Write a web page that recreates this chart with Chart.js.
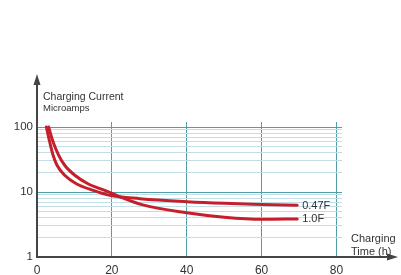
<!DOCTYPE html>
<html>
<head>
<meta charset="utf-8">
<script src="https://cdn.jsdelivr.net/npm/chart.js@4/dist/chart.umd.min.js"></script>
<style>
  html, body { margin: 0; padding: 0; background: #ffffff; }
  #wrap { width: 401px; height: 275px; position: relative; }
</style>
</head>
<body>
<div id="wrap"><canvas id="c" width="401" height="275"></canvas></div>
<script>
// ---- data ----
const xTickValues = [0, 20, 40, 60, 80];
const yTickLabels = [1, 10, 100];
const yGridValues = [1, 2, 3, 4, 5, 6, 7, 8, 9, 10, 20, 30, 40, 50, 60, 70, 80, 90, 100];
const seriesLabels = ['0.47F', '1.0F'];

const time047 = [2.5, 3.4, 4.3, 5.35, 7.4, 10.5, 15, 19.4, 27.5, 40, 50, 60, 69.5];
const current047 = [100, 58.8, 36.7, 25.8, 18.1, 13.4, 10.6, 8.9, 7.9, 7.1, 6.7, 6.45, 6.25];

const time10 = [3.1, 4.3, 5.8, 7.4, 10.1, 13.6, 18.1, 21.7, 28, 40, 50, 60, 69.5];
const current10 = [100, 58.8, 36.7, 25.8, 18.1, 13.4, 10.6, 8.66, 6.4, 4.8, 4.1, 3.8, 3.85];

const yAxisTitle = ['Charging Current', 'Microamps'];
const xAxisTitle = ['Charging', 'Time (h)'];

// ---- styling ----
const RED = '#c61f2c';
const AXIS = '#454545';
const TEXT = '#333333';
const TEAL = '#4f9ea8';
const LIGHT = '#c4dee5';
const FONT = '"Liberation Sans", Arial, Helvetica, sans-serif';

function pts(xs, ys) { return xs.map((x, i) => ({ x: x, y: ys[i] })); }

const decorPlugin = {
  id: 'decor',
  afterDraw(chart) {
    const ctx = chart.ctx;
    const xs = chart.scales.x, ys = chart.scales.y;
    const x0 = xs.getPixelForValue(0);
    const y0 = ys.getPixelForValue(1);
    ctx.save();
    // axes
    ctx.strokeStyle = AXIS;
    ctx.fillStyle = AXIS;
    ctx.lineWidth = 2;
    ctx.beginPath();
    ctx.moveTo(x0, y0 + 1);
    ctx.lineTo(x0, 82);
    ctx.moveTo(x0 - 1, y0);
    ctx.lineTo(390, y0);
    ctx.stroke();
    // arrowheads
    ctx.beginPath();
    ctx.moveTo(x0, 74);
    ctx.lineTo(x0 - 3.5, 85);
    ctx.lineTo(x0 + 3.5, 85);
    ctx.closePath();
    ctx.fill();
    ctx.beginPath();
    ctx.moveTo(398, y0);
    ctx.lineTo(387, y0 - 3.5);
    ctx.lineTo(387, y0 + 3.5);
    ctx.closePath();
    ctx.fill();

    // axis titles
    ctx.fillStyle = TEXT;
    ctx.textBaseline = 'middle';
    ctx.textAlign = 'left';
    ctx.font = '10.5px ' + FONT;
    ctx.fillText(yAxisTitle[0], 43, 97);
    ctx.font = '9.5px ' + FONT;
    ctx.fillText(yAxisTitle[1], 43, 108.5);
    ctx.font = '11px ' + FONT;
    ctx.fillText(xAxisTitle[0], 351, 238.5);
    ctx.fillText(xAxisTitle[1], 351, 252);

    // series end labels
    ctx.font = '11px ' + FONT;
    chart.data.datasets.forEach((ds, i) => {
      const meta = chart.getDatasetMeta(i);
      const last = meta.data[meta.data.length - 1];
      ctx.fillText(seriesLabels[i], last.x + 5, last.y + 0.5);
    });
    ctx.restore();
  }
};

new Chart(document.getElementById('c'), {
  type: 'line',
  data: {
    datasets: [
      { label: seriesLabels[0], data: pts(time047, current047) },
      { label: seriesLabels[1], data: pts(time10, current10) }
    ]
  },
  options: {
    responsive: false,
    animation: false,
    devicePixelRatio: 1,
    layout: { padding: { top: 122, right: 59, left: 0, bottom: 0 } },
    elements: {
      line: { borderColor: RED, borderWidth: 3, cubicInterpolationMode: 'monotone', fill: false, borderCapStyle: 'round' },
      point: { radius: 0, hoverRadius: 0 }
    },
    plugins: { legend: { display: false }, tooltip: { enabled: false } },
    scales: {
      x: {
        type: 'linear',
        min: 0,
        max: 81.47,
        afterBuildTicks(scale) { scale.ticks = xTickValues.map(v => ({ value: v })); },
        afterFit(scale) { scale.height = 18; },
        border: { display: false },
        grid: { color: TEAL, lineWidth: 1, drawTicks: false },
        ticks: {
          autoSkip: false, maxRotation: 0, padding: 6,
          color: TEXT, font: { family: FONT, size: 12 },
          callback: (v) => String(v)
        }
      },
      y: {
        type: 'logarithmic',
        min: 1,
        max: 119.4,
        afterBuildTicks(scale) { scale.ticks = yGridValues.map(v => ({ value: v })); },
        afterFit(scale) { scale.width = 37; },
        border: { display: false },
        grid: {
          drawTicks: false,
          lineWidth: 1,
          color: (c) => {
            const v = c.tick ? c.tick.value : 0;
            if (v === 1) return 'rgba(0,0,0,0)';
            return (v === 10 || v === 100) ? TEAL : LIGHT;
          }
        },
        ticks: {
          autoSkip: false, padding: 4,
          color: TEXT, font: { family: FONT, size: 11.5 },
          callback: (v) => yTickLabels.includes(v) ? String(v) : ''
        }
      }
    }
  },
  plugins: [decorPlugin]
});
</script>
</body>
</html>
